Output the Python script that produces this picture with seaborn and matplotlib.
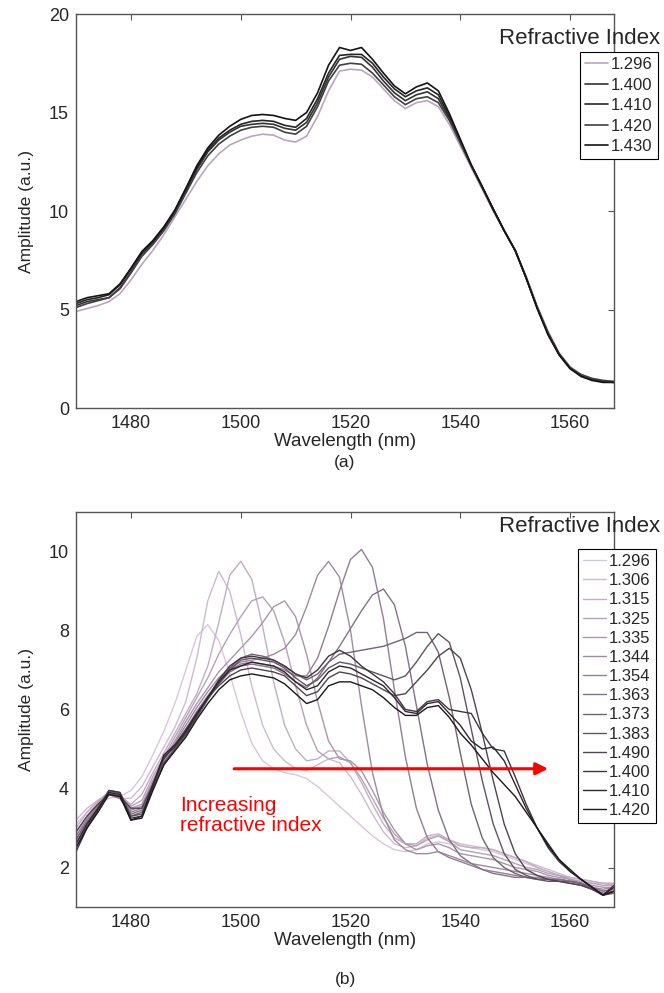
import matplotlib
matplotlib.use("Agg")
import numpy as np
import pandas as pd
import matplotlib.pyplot as plt
import seaborn as sns

# wavelength grid (nm)
wl = [1470, 1472, 1474, 1476, 1478, 1480, 1482, 1484, 1486, 1488,
      1490, 1492, 1494, 1496, 1498, 1500, 1502, 1504, 1506, 1508,
      1510, 1512, 1514, 1516, 1518, 1520, 1522, 1524, 1526, 1528,
      1530, 1532, 1534, 1536, 1538, 1540, 1542, 1544, 1546, 1548,
      1550, 1552, 1554, 1556, 1558, 1560, 1562, 1564, 1566, 1568]

# ---- panel (a) ----
a_labels = ["1.296", "1.400", "1.410", "1.420", "1.430"]
a_1296 = [4.9, 5.05, 5.2, 5.4, 5.8, 6.5, 7.3, 8.0, 8.8, 9.7,
          10.6, 11.5, 12.3, 12.9, 13.35, 13.6, 13.8, 13.9, 13.85, 13.6,
          13.5, 13.8, 14.8, 16.1, 17.1, 17.2, 17.15, 16.8, 16.2, 15.6,
          15.2, 15.5, 15.6, 15.3, 14.4, 13.3, 12.2, 11.1, 10.0, 9.0,
          8.0, 6.7, 5.2, 3.9, 2.8, 2.1, 1.7, 1.5, 1.4, 1.35]
a_1400 = [5.2, 5.4, 5.5, 5.6, 6.1, 6.9, 7.8, 8.4, 9.1, 9.9,
          11.0, 12.1, 13.0, 13.6, 14.0, 14.3, 14.4, 14.45, 14.4, 14.2,
          14.1, 14.5, 15.5, 16.8, 17.7, 17.85, 17.8, 17.3, 16.6, 16.0,
          15.6, 15.9, 16.05, 15.7, 14.7, 13.5, 12.3, 11.2, 10.1, 9.0,
          8.0, 6.6, 5.1, 3.8, 2.75, 2.05, 1.65, 1.45, 1.35, 1.3]
a_1410 = [5.3, 5.5, 5.6, 5.75, 6.25, 7.05, 7.9, 8.45, 9.15, 10.0,
          11.1, 12.2, 13.1, 13.7, 14.1, 14.4, 14.55, 14.6, 14.55, 14.35,
          14.25, 14.7, 15.7, 17.0, 17.9, 17.95, 17.95, 17.5, 16.8, 16.2,
          15.8, 16.1, 16.25, 15.9, 14.8, 13.55, 12.3, 11.2, 10.05, 9.0,
          8.0, 6.6, 5.1, 3.75, 2.7, 2.0, 1.65, 1.45, 1.35, 1.3]
a_1420 = [5.1, 5.3, 5.45, 5.6, 6.05, 6.85, 7.7, 8.3, 9.0, 9.85,
          10.9, 11.95, 12.8, 13.4, 13.8, 14.1, 14.25, 14.3, 14.25, 14.0,
          13.9, 14.3, 15.3, 16.6, 17.4, 17.5, 17.45, 17.0, 16.4, 15.8,
          15.4, 15.7, 15.8, 15.5, 14.6, 13.45, 12.3, 11.2, 10.1, 9.0,
          8.0, 6.6, 5.1, 3.8, 2.75, 2.05, 1.7, 1.5, 1.4, 1.35]
a_1430 = [5.4, 5.6, 5.7, 5.8, 6.3, 7.1, 7.95, 8.5, 9.2, 10.05,
          11.15, 12.3, 13.2, 13.85, 14.3, 14.65, 14.85, 14.9, 14.85, 14.7,
          14.6, 15.0, 16.0, 17.4, 18.3, 18.15, 18.3, 17.7, 17.0, 16.35,
          15.95, 16.3, 16.5, 16.1, 14.95, 13.65, 12.35, 11.25, 10.1, 9.0,
          8.0, 6.6, 5.05, 3.7, 2.7, 2.0, 1.6, 1.4, 1.3, 1.3]
a_series = [a_1296, a_1400, a_1410, a_1420, a_1430]

# ---- panel (b) ----
b_labels = ["1.296", "1.306", "1.315", "1.325", "1.335", "1.344", "1.354",
            "1.363", "1.373", "1.383", "1.490", "1.400", "1.410", "1.420"]
b_1296 = [3.1, 3.4, 3.6, 3.75, 3.8, 3.95, 4.3, 4.85, 5.45, 6.15,
          7.0, 7.85, 8.15, 7.75, 6.9, 5.95, 5.15, 4.7, 4.5, 4.4,
          4.35, 4.25, 4.05, 3.8, 3.55, 3.3, 3.05, 2.8, 2.6, 2.45,
          2.4, 2.45, 2.6, 2.65, 2.6, 2.55, 2.5, 2.45, 2.4, 2.3,
          2.2, 2.1, 2.0, 1.9, 1.8, 1.7, 1.65, 1.6, 1.6, 1.6]
b_1306 = [3.2, 3.5, 3.7, 3.85, 3.75, 3.75, 4.05, 4.55, 5.05, 5.55,
          6.2, 7.3, 8.75, 9.5, 9.0, 7.9, 6.6, 5.6, 5.0, 4.7,
          4.5, 4.45, 4.6, 4.75, 4.65, 4.3, 3.85, 3.35, 2.9, 2.6,
          2.5, 2.55, 2.75, 2.8, 2.7, 2.6, 2.55, 2.5, 2.45, 2.35,
          2.25, 2.15, 2.05, 1.95, 1.85, 1.75, 1.7, 1.65, 1.6, 1.55]
b_1315 = [3.0, 3.4, 3.7, 3.9, 3.8, 3.6, 3.85, 4.4, 4.9, 5.4,
          5.9, 6.4, 7.1, 8.2, 9.4, 9.75, 9.3, 8.1, 6.7, 5.6,
          5.0, 4.7, 4.75, 4.95, 4.95, 4.65, 4.15, 3.6, 3.1, 2.75,
          2.6, 2.6, 2.8, 2.85, 2.7, 2.55, 2.5, 2.5, 2.45, 2.35,
          2.25, 2.15, 2.0, 1.9, 1.8, 1.75, 1.7, 1.65, 1.6, 1.6]
b_1325 = [2.9, 3.3, 3.65, 3.9, 3.85, 3.55, 3.7, 4.3, 4.8, 5.3,
          5.8, 6.3, 6.8, 7.4, 7.9, 8.35, 8.75, 8.85, 8.5, 7.7,
          6.6, 5.6, 4.95, 4.75, 4.8, 4.65, 4.25, 3.75, 3.25, 2.85,
          2.6, 2.55, 2.7, 2.8, 2.65, 2.45, 2.4, 2.35, 2.3, 2.2,
          2.1, 2.0, 1.95, 1.85, 1.8, 1.7, 1.65, 1.6, 1.55, 1.55]
b_1335 = [2.8, 3.25, 3.6, 3.85, 3.8, 3.5, 3.6, 4.2, 4.75, 5.2,
          5.7, 6.15, 6.55, 6.95, 7.25, 7.55, 7.85, 8.2, 8.6, 8.75,
          8.35, 7.4, 6.2, 5.2, 4.75, 4.7, 4.45, 3.95, 3.4, 2.95,
          2.6, 2.45, 2.55, 2.6, 2.5, 2.35, 2.3, 2.25, 2.2, 2.1,
          2.0, 1.95, 1.9, 1.8, 1.75, 1.7, 1.6, 1.55, 1.5, 1.5]
b_1344 = [2.7, 3.2, 3.6, 3.85, 3.75, 3.45, 3.55, 4.15, 4.7, 5.15,
          5.6, 6.05, 6.45, 6.8, 7.05, 7.2, 7.25, 7.3, 7.4, 7.55,
          7.9, 8.6, 9.4, 9.75, 9.35, 8.0, 6.1, 4.4, 3.3, 2.7,
          2.45, 2.35, 2.35, 2.4, 2.3, 2.2, 2.1, 2.05, 2.0, 1.95,
          1.9, 1.85, 1.8, 1.75, 1.7, 1.65, 1.6, 1.5, 1.45, 1.5]
b_1354 = [2.8, 3.2, 3.55, 3.9, 3.8, 3.4, 3.5, 4.1, 4.65, 5.05,
          5.5, 5.95, 6.35, 6.7, 7.0, 7.15, 7.2, 7.15, 7.1, 7.0,
          6.85, 6.85, 7.3, 8.1, 9.0, 9.8, 10.05, 9.6, 8.3, 6.5,
          4.8, 3.5, 2.75, 2.4, 2.25, 2.15, 2.05, 1.95, 1.9, 1.85,
          1.8, 1.75, 1.75, 1.7, 1.7, 1.65, 1.6, 1.5, 1.4, 1.45]
b_1363 = [2.6, 3.1, 3.5, 3.85, 3.75, 3.35, 3.45, 4.05, 4.6, 5.0,
          5.45, 5.9, 6.3, 6.65, 6.95, 7.1, 7.15, 7.1, 7.05, 6.9,
          6.7, 6.55, 6.8, 7.2, 7.6, 8.05, 8.5, 8.9, 9.05, 8.65,
          7.6, 6.1, 4.6, 3.45, 2.7, 2.3, 2.1, 1.95, 1.85, 1.8,
          1.75, 1.75, 1.7, 1.7, 1.7, 1.65, 1.6, 1.5, 1.4, 1.45]
b_1373 = [2.7, 3.15, 3.5, 3.95, 3.85, 3.3, 3.4, 4.0, 4.6, 5.0,
          5.4, 5.85, 6.3, 6.7, 7.05, 7.3, 7.4, 7.35, 7.25, 7.1,
          6.9, 6.75, 6.9, 7.2, 7.4, 7.45, 7.5, 7.55, 7.6, 7.7,
          7.8, 7.95, 7.95, 7.45, 6.3, 4.9, 3.6, 2.75, 2.25, 2.0,
          1.85, 1.75, 1.7, 1.7, 1.65, 1.65, 1.6, 1.45, 1.35, 1.4]
b_1383 = [2.5, 3.05, 3.5, 3.95, 3.9, 3.3, 3.35, 4.0, 4.65, 5.0,
          5.35, 5.8, 6.25, 6.65, 7.0, 7.25, 7.3, 7.25, 7.2, 7.05,
          6.8, 6.6, 6.75, 7.05, 7.2, 7.15, 7.05, 6.95, 6.85, 6.75,
          6.85, 7.2, 7.6, 7.92, 7.7, 6.8, 5.5, 4.2, 3.1, 2.35,
          1.95, 1.8, 1.7, 1.65, 1.65, 1.6, 1.55, 1.45, 1.3, 1.35]
b_1490 = [2.9, 3.3, 3.6, 3.85, 3.8, 3.5, 3.5, 4.1, 4.75, 5.1,
          5.5, 5.9, 6.3, 6.6, 6.85, 7.0, 7.05, 7.0, 6.95, 6.85,
          6.6, 6.35, 6.45, 6.8, 6.95, 6.9, 6.8, 6.65, 6.5, 6.35,
          6.4, 6.7, 7.0, 7.35, 7.55, 7.3, 6.5, 5.4, 4.2, 3.1,
          2.35, 1.95, 1.8, 1.7, 1.65, 1.6, 1.55, 1.45, 1.3, 1.4]
b_1400 = [2.4, 3.0, 3.45, 3.95, 3.9, 3.25, 3.3, 4.05, 4.8, 5.05,
          5.4, 5.85, 6.3, 6.75, 7.1, 7.3, 7.35, 7.3, 7.25, 7.1,
          6.9, 6.8, 7.0, 7.35, 7.5, 7.35, 7.1, 6.9, 6.7, 6.4,
          6.0, 5.95, 6.2, 6.25, 6.0, 5.95, 5.9, 5.4, 5.0, 4.95,
          4.3, 3.6, 3.0, 2.5, 2.15, 1.9, 1.7, 1.5, 1.3, 1.55]
b_1410 = [2.6, 3.1, 3.5, 3.9, 3.85, 3.2, 3.3, 4.1, 4.85, 5.1,
          5.45, 5.9, 6.3, 6.7, 7.0, 7.1, 7.2, 7.15, 7.1, 6.95,
          6.7, 6.5, 6.6, 6.95, 7.1, 7.05, 6.9, 6.75, 6.6, 6.3,
          5.95, 5.9, 6.15, 6.2, 5.9, 5.6, 5.2, 5.0, 5.05, 4.7,
          4.1, 3.5, 3.0, 2.6, 2.2, 1.9, 1.7, 1.5, 1.3, 1.5]
b_1420 = [2.5, 3.0, 3.4, 3.85, 3.8, 3.2, 3.25, 3.95, 4.6, 4.95,
          5.3, 5.75, 6.15, 6.5, 6.75, 6.85, 6.9, 6.85, 6.8, 6.65,
          6.4, 6.15, 6.25, 6.6, 6.7, 6.7, 6.6, 6.5, 6.3, 6.05,
          5.85, 5.85, 6.05, 6.1, 5.8, 5.4, 5.1, 4.75, 4.4, 4.1,
          3.8, 3.4, 3.0, 2.55, 2.2, 1.95, 1.7, 1.5, 1.3, 1.4]
b_series = [b_1296, b_1306, b_1315, b_1325, b_1335, b_1344, b_1354,
            b_1363, b_1373, b_1383, b_1490, b_1400, b_1410, b_1420]


def long_frame(series, labels):
    return pd.DataFrame({
        "wavelength": wl * len(series),
        "amplitude": sum(series, []),
        "ri": np.repeat(labels, len(wl)),
    })


df_a = long_frame(a_series, a_labels)
df_b = long_frame(b_series, b_labels)

sns.set_style("white")
plt.rcParams["font.family"] = ["Liberation Sans", "DejaVu Sans"]

a_colors = ["#bba5bc", "#333333", "#262626", "#404040", "#141414"]
b_colors = sns.blend_palette(["#dac6db", "#8d788e", "#1d181d"], n_colors=14)

fig = plt.figure(figsize=(6.64, 9.93), dpi=100)
ax_a = fig.add_axes([0.1145, 0.5891, 0.8102, 0.3968])
ax_b = fig.add_axes([0.1145, 0.0866, 0.8102, 0.3978])

sns.lineplot(data=df_a, x="wavelength", y="amplitude", hue="ri", hue_order=a_labels,
             palette=a_colors, linewidth=1.2, estimator=None, sort=False, ax=ax_a)
sns.lineplot(data=df_b, x="wavelength", y="amplitude", hue="ri", hue_order=b_labels,
             palette=b_colors, linewidth=1.0, estimator=None, sort=False, ax=ax_b)


def style(ax, ylim, yticks):
    ax.set_xlim(1470, 1568)
    ax.set_ylim(*ylim)
    ax.set_xticks([1480, 1500, 1520, 1540, 1560])
    ax.set_yticks(yticks)
    ax.tick_params(direction="in", length=4, width=0.8, top=True, right=True,
                   labelsize=13, color="#555555", pad=5)
    for s in ax.spines.values():
        s.set_visible(True)
        s.set_color("#555555")
        s.set_linewidth(1.0)
    ax.set_xlabel("Wavelength (nm)", fontsize=13.5, labelpad=1)
    ax.set_ylabel("Amplitude (a.u.)", fontsize=12.5, labelpad=11)


style(ax_a, (0, 20), [0, 5, 10, 15, 20])
style(ax_b, (1, 11), [2, 4, 6, 8, 10])


def legend(ax, x, y, spacing):
    handles, labels = ax.get_legend_handles_labels()
    ax.get_legend().remove()
    leg = ax.legend(handles, labels, loc="upper left", bbox_to_anchor=(x, y),
                    bbox_transform=fig.transFigure, frameon=True, fancybox=False,
                    edgecolor="black", fontsize=12, handlelength=1.4,
                    handletextpad=0.15, labelspacing=spacing, borderpad=0.3,
                    borderaxespad=0)
    leg.get_frame().set_linewidth(0.8)
    leg.get_frame().set_alpha(1)


legend(ax_a, 0.8735, 0.9476, 0.33)
legend(ax_b, 0.8705, 0.4470, 0.25)

fig.text(0.994, 0.9617, "Refractive Index", ha="right", va="center", fontsize=16)
fig.text(0.994, 0.4693, "Refractive Index", ha="right", va="center", fontsize=16)

ax_b.annotate("", xy=(1556.5, 4.5), xytext=(1498.3, 4.5),
              arrowprops=dict(arrowstyle="-|>", color="red", lw=2.2, mutation_scale=18))
ax_b.text(1488.9, 3.32, "Increasing\nrefractive index", color="red", fontsize=15,
          ha="left", va="center", linespacing=1.1)

fig.text(0.5196, 0.5347, "(a)", ha="center", va="center", fontsize=12.5)
fig.text(0.5196, 0.0131, "(b)", ha="center", va="center", fontsize=12.5)

fig.savefig("out.png", dpi=100)
